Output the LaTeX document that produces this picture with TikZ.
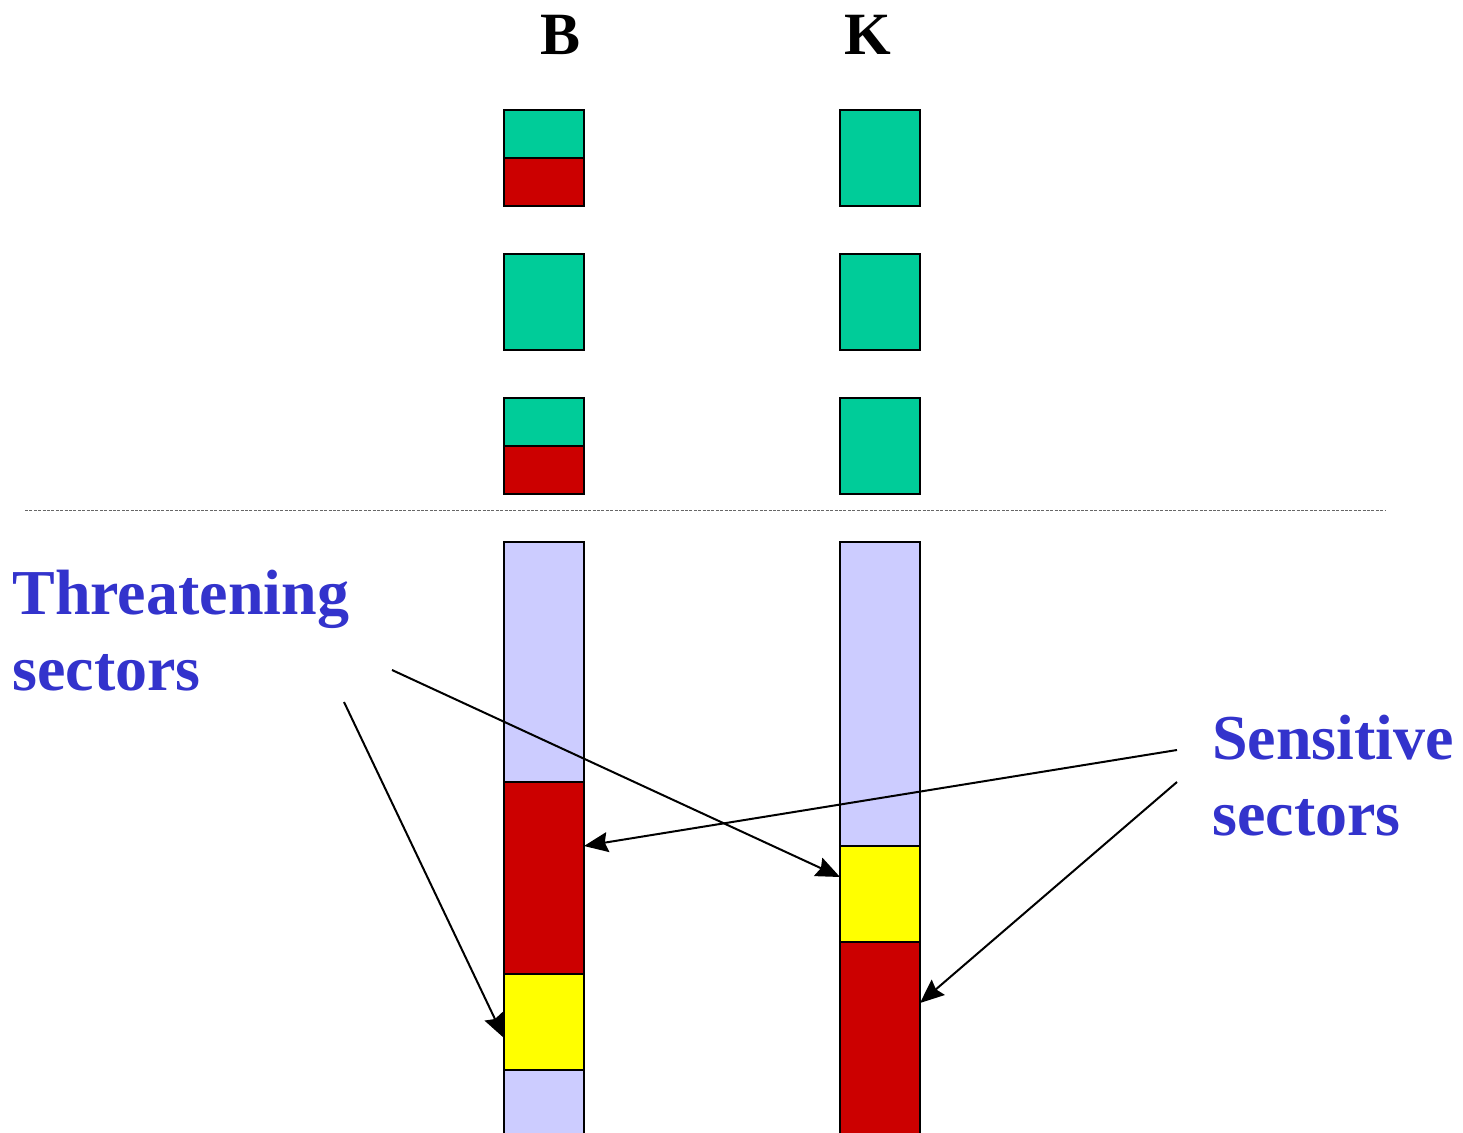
\documentclass[tikz,border=0pt]{standalone}
\usepackage{fontspec}
\setmainfont{Liberation Serif}
\usetikzlibrary{arrows.meta,calc}
\definecolor{sgreen}{HTML}{00CC99}
\definecolor{sred}{HTML}{CC0000}
\definecolor{slav}{HTML}{CCCCFF}
\definecolor{syel}{HTML}{FFFF00}
\definecolor{lblue}{HTML}{3333CC}
\begin{document}
\begin{tikzpicture}[x=0.5pt,y=-0.5pt,
  seg/.style={draw=black,line width=1pt,inner sep=0pt,outer sep=0pt,minimum width=40pt,anchor=north west},
  colhead/.style={font=\fontsize{30}{36}\selectfont\bfseries,anchor=base,inner sep=0pt},
  lbl/.style={font=\fontsize{32}{38}\selectfont\bfseries,text=lblue,anchor=base west,inner sep=0pt,align=left},
  arr/.style={line width=1pt,-{Stealth[length=12pt,width=10pt,inset=1.5pt]}}]
\useasboundingbox (0,0) rectangle (1463,1133);
\clip (0,0) rectangle (1463,1133);
% headers
\node[colhead] (hB) at (561,55) {B};
\node[colhead] (hK) at (868,55) {K};
% top rows, column B
\node[seg,fill=sgreen,minimum height=24pt] (b1g) at (504,110) {};
\node[seg,fill=sred,minimum height=24pt] (b1r) at (504,158) {};
\node[seg,fill=sgreen,minimum height=48pt] (b2g) at (504,254) {};
\node[seg,fill=sgreen,minimum height=24pt] (b3g) at (504,398) {};
\node[seg,fill=sred,minimum height=24pt] (b3r) at (504,446) {};
% top rows, column K
\node[seg,fill=sgreen,minimum height=48pt] (k1g) at (840,110) {};
\node[seg,fill=sgreen,minimum height=48pt] (k2g) at (840,254) {};
\node[seg,fill=sgreen,minimum height=48pt] (k3g) at (840,398) {};
% separator
\coordinate (sepL) at (25,510.5);
\coordinate (sepR) at (1385,510.5);
\draw[gray!80!black,line width=0.5pt,dash pattern=on 1.5pt off 0.7pt] (sepL) -- (sepR);
% bottom column B
\node[seg,fill=slav,minimum height=120pt] (bl1) at (504,542) {};
\node[seg,fill=sred,minimum height=96pt] (bred) at (504,782) {};
\node[seg,fill=syel,minimum height=48pt] (byel) at (504,974) {};
\node[seg,fill=slav,minimum height=40pt] (bl2) at (504,1070) {};
% bottom column K
\node[seg,fill=slav,minimum height=152pt] (kl1) at (840,542) {};
\node[seg,fill=syel,minimum height=48pt] (kyel) at (840,846) {};
\node[seg,fill=sred,minimum height=110pt] (kred) at (840,942) {};
% labels
\node[lbl] (thr) at (12,691) {Threatening\\sectors};
\node[lbl] (sen) at (1212,835) {Sensitive\\sectors};
% arrows
\coordinate (t1) at (392,670);
\coordinate (t2) at (344,702);
\coordinate (s1) at (1177,750);
\coordinate (s2) at (1177,782);
\draw[arr] (t1) -- ($(kyel.north west)+(0,31)$);
\draw[arr] (t2) -- ($(byel.north west)+(0,64)$);
\draw[arr] (s1) -- ($(bred.north east)+(0,64)$);
\draw[arr] (s2) -- ($(kred.north east)+(0,61)$);
\end{tikzpicture}
\end{document}
